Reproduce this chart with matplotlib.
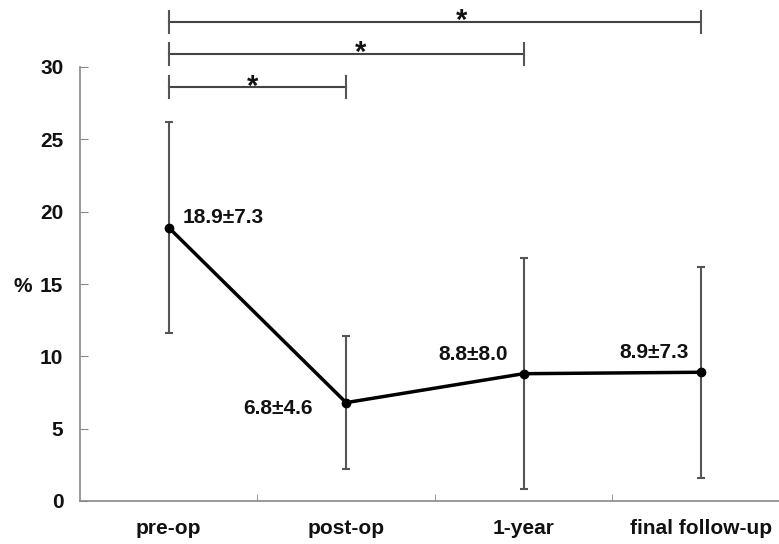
import matplotlib
matplotlib.use('Agg')
import matplotlib.pyplot as plt
import numpy as np

plt.rcParams['font.family'] = ['Liberation Sans', 'DejaVu Sans']
plt.rcParams['font.weight'] = 'bold'
plt.rcParams['font.size'] = 15

# measurement periods, mean and SD (%)
periods = ['pre-op', 'post-op', '1-year', 'final follow-up']
means = [18.9, 6.8, 8.8, 8.9]
sds = [7.3, 4.6, 8.0, 7.3]

# significance brackets: (start index, end index, bar height, star x)
brackets = [(0, 1, 28.6, 0.47), (0, 2, 30.9, 1.08), (0, 3, 33.1, 1.65)]

# label offsets in points (dx, dy, ha)
label_offsets = [(10, 7, 'left'), (-24, -4, 'right'), (-11, 14, 'right'), (-9, 14, 'right')]

fig = plt.figure(figsize=(7.79, 5.44), dpi=100)
ax = fig.add_axes([80 / 779, 43 / 544, 699 / 779, 434 / 544])

x = np.arange(len(periods))
ax.errorbar(x, means, yerr=sds, fmt='none', ecolor='#555555', elinewidth=1.5,
            capsize=3, capthick=1.5, zorder=2)
ax.plot(x, means, color='black', lw=2.5, marker='o', markersize=6, zorder=3)

for xi, m, s, (dx, dy, ha) in zip(x, means, sds, label_offsets):
    ax.annotate('{:.1f}±{:.1f}'.format(m, s), (xi, m), xytext=(dx, dy),
                textcoords='offset points', ha=ha, va='center',
                fontsize=15, fontweight='bold', color='#111111')

# brackets sit above the plotting area
tick_h = 0.76
for i0, i1, h, sx in brackets:
    ax.plot([x[i0], x[i1]], [h, h], color='#444444', lw=1.5, clip_on=False)
    for xe in (x[i0], x[i1]):
        ax.plot([xe, xe], [h - tick_h, h + tick_h], color='#555555', lw=1.5,
                clip_on=False)
    ax.text(sx, h - 0.5, '*', ha='center', va='baseline', fontsize=21,
            fontweight='bold', color='#111111', clip_on=False)

ax.set_xlim(-0.5, -0.5 + 699 / 177.4)
ax.set_ylim(0, 30)
ax.set_yticks(np.arange(0, 31, 5))
ax.set_xticks(x)
ax.set_xticklabels(periods)
ax.set_xticks(x[:-1] + 0.5, minor=True)

ax.tick_params(axis='x', which='major', length=0, pad=13, labelcolor='#111111')
ax.tick_params(axis='x', which='minor', direction='in', length=5, color='#888888')
ax.tick_params(axis='y', direction='in', length=6, color='#888888', pad=12,
               labelcolor='#111111')

for side in ('top', 'right'):
    ax.spines[side].set_visible(False)
for side in ('left', 'bottom'):
    ax.spines[side].set_color('#888888')
    ax.spines[side].set_linewidth(1.2)

ax.set_ylabel('%', rotation=0, ha='center', va='center', fontsize=15,
              fontweight='bold', color='#111111')
ax.yaxis.set_label_coords(-0.0815, 0.495)

fig.savefig('out.png', dpi=100)
